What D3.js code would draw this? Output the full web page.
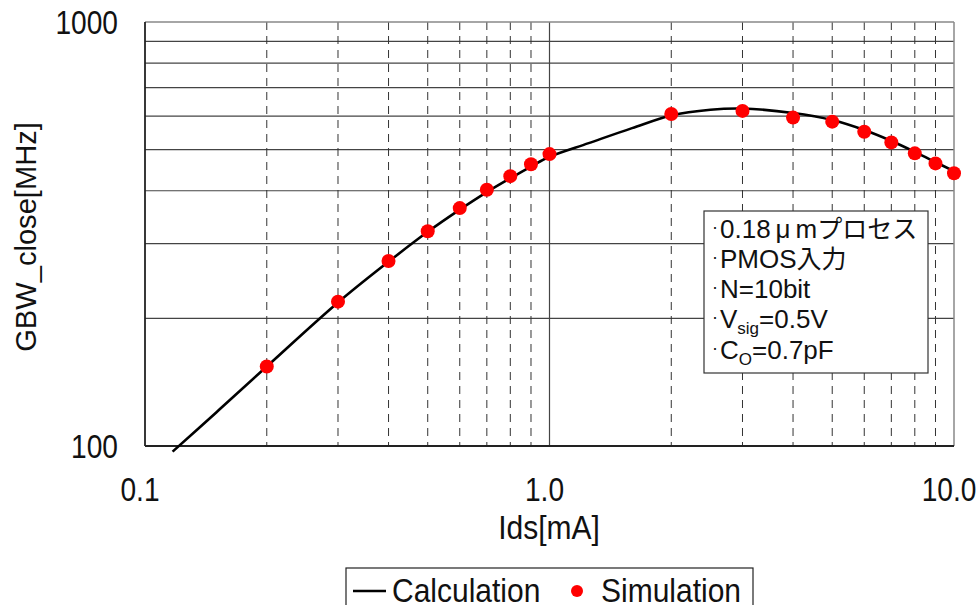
<!DOCTYPE html>
<html><head><meta charset="utf-8">
<script src="https://cdn.jsdelivr.net/npm/d3@7"></script>
<style>body{margin:0;background:#fff}svg{display:block}text{font-family:"Liberation Sans",Arial,sans-serif;fill:#111}</style>
</head><body>
<svg id="c" width="979" height="605"></svg>
<script>
// data
const calcIds = [0.117,0.15,0.2,0.3,0.4,0.5,0.6,0.7,0.8,0.9,1.0,1.25,1.6,2.0,2.5,3.0,4.0,5.0,6.0,7.0,8.0,9.0,10.0];
const calcGBW = [97,120,154,218,272,320,361,397,428,456,481,518,562,602,621,625,610,587,556,524,494,467,445];
const simIds = [0.2,0.3,0.4,0.5,0.6,0.7,0.8,0.9,1.0,2,3,4,5,6,7,8,9,10];
const simGBW = [154,219,273,321,364,402,433,462,488,607,617,595,582,551,520,490,464,440];
const xTicks = [0.1,1.0,10.0];
const xTickLabels = ["0.1","1.0","10.0"];
const yTicks = [100,1000];
const yTickLabels = ["100","1000"];
const xMinor = [0.2,0.3,0.4,0.5,0.6,0.7,0.8,0.9,2,3,4,5,6,7,8,9];
const yGrid = [200,300,400,500,600,700,800,900];

const svg = d3.select("#c");
const L=145,R=954,T=22,B=446;
const x = d3.scaleLog().domain([0.1,10]).range([L,R]);
const y = d3.scaleLog().domain([100,1000]).range([B,T]);

// horizontal grid
svg.append("g").selectAll("line").data(yGrid).join("line")
  .attr("x1",L).attr("x2",R).attr("y1",d=>y(d)).attr("y2",d=>y(d))
  .attr("stroke","#444").attr("stroke-width",1.2);
// vertical dashed grid
svg.append("g").selectAll("line").data(xMinor).join("line")
  .attr("x1",d=>x(d)).attr("x2",d=>x(d)).attr("y1",T).attr("y2",B)
  .attr("stroke","#333").attr("stroke-width",1).attr("stroke-dasharray","8,6");
// vertical solid at 1.0
svg.append("line").attr("x1",x(1)).attr("x2",x(1)).attr("y1",T).attr("y2",B)
  .attr("stroke","#444").attr("stroke-width",1.2);
// frame
svg.append("line").attr("x1",L).attr("x2",R).attr("y1",T).attr("y2",T).attr("stroke","#888").attr("stroke-width",1.5);
svg.append("line").attr("x1",R).attr("x2",R).attr("y1",T).attr("y2",B).attr("stroke","#888").attr("stroke-width",1.5);
svg.append("line").attr("x1",L).attr("x2",L).attr("y1",T).attr("y2",B).attr("stroke","#222").attr("stroke-width",1.8);
svg.append("line").attr("x1",L).attr("x2",R).attr("y1",B).attr("y2",B).attr("stroke","#222").attr("stroke-width",1.8);

// tick labels (slightly tall, as in the reference)
svg.append("g").selectAll("text").data(xTicks).join("text")
  .attr("transform",d=>`translate(${x(d)-5},501) scale(0.97,1.12)`).attr("text-anchor","middle")
  .attr("font-size",29).text((d,i)=>xTickLabels[i]);
svg.append("g").selectAll("text").data(yTicks).join("text")
  .attr("transform",d=>`translate(118,${y(d)+12}) scale(0.97,1.12)`).attr("text-anchor","end")
  .attr("font-size",29).text((d,i)=>yTickLabels[i]);

// axis titles
svg.append("text").attr("transform","translate(549,539) scale(1,1.08)").attr("text-anchor","middle").attr("font-size",30).text("Ids[mA]");
svg.append("text").attr("transform","translate(36,237) rotate(-90) scale(1.04,1.05)").attr("text-anchor","middle").attr("font-size",28).text("GBW_close[MHz]");

// calculation line
const calc = calcIds.map((d,i)=>[d,calcGBW[i]]);
svg.append("path").datum(calc)
  .attr("d",d3.line().x(d=>x(d[0])).y(d=>y(d[1])).curve(d3.curveCatmullRom))
  .attr("fill","none").attr("stroke","#000").attr("stroke-width",2.6);

// simulation dots
svg.append("g").selectAll("circle").data(simIds).join("circle")
  .attr("cx",d=>x(d)).attr("cy",(d,i)=>y(simGBW[i])).attr("r",7).attr("fill","#ff0000");

// annotation box
const nb = svg.append("g");
nb.append("rect").attr("x",704).attr("y",211).attr("width",224).attr("height",162)
  .attr("fill","#fff").attr("stroke","#333").attr("stroke-width",1.2);
const baseY=[238,268,298,328,359];
const jp = "font-family:'Noto Sans CJK JP'";
baseY.forEach((by,i)=>{
  const t = nb.append("text").attr("x",712).attr("y",by).attr("font-size",26);
  t.append("tspan").attr("font-size",18).attr("dy",-5).text("·");
  const t2 = t.append("tspan").attr("dy",5).attr("dx",2);
  if(i===0){
    t2.text("0.18");
    t.append("tspan").attr("dx",5).text("μ");
    t.append("tspan").attr("dx",5).text("m");
    t.append("tspan").attr("style",jp).attr("font-size",25).text("プロセス");
  } else if(i===1){
    t2.text("PMOS");
    t.append("tspan").attr("style",jp).attr("font-size",25).text("入力");
  } else if(i===2){
    t2.text("N=10bit");
  } else if(i===3){
    t2.text("V");
    t.append("tspan").attr("font-size",17).attr("dy",6).text("sig");
    t.append("tspan").attr("dy",-6).text("=0.5V");
  } else {
    t2.text("C");
    t.append("tspan").attr("font-size",17).attr("dy",6).text("O");
    t.append("tspan").attr("dy",-6).text("=0.7pF");
  }
});

// legend
const lg = svg.append("g");
lg.append("rect").attr("x",346).attr("y",568).attr("width",407).attr("height",50)
  .attr("fill","#fff").attr("stroke","#222").attr("stroke-width",1.2);
lg.append("line").attr("x1",353).attr("x2",386).attr("y1",591).attr("y2",591).attr("stroke","#000").attr("stroke-width",2.6);
lg.append("text").attr("transform","translate(392,602) scale(1,1.08)").attr("font-size",30).text("Calculation");
lg.append("circle").attr("cx",577).attr("cy",591).attr("r",6).attr("fill","#ff0000");
lg.append("text").attr("transform","translate(601,602) scale(1,1.08)").attr("font-size",30).text("Simulation");
</script>
</body></html>
